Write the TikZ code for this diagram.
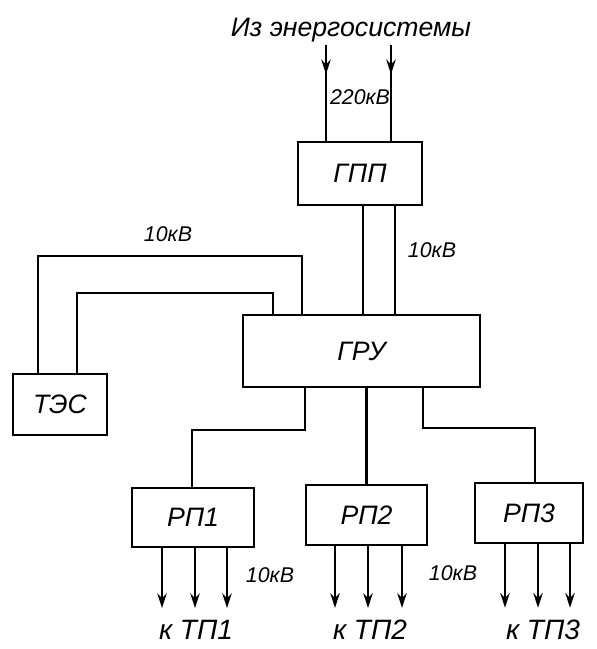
\documentclass[tikz,border=0pt]{standalone}
\usepackage{fontspec}
\setmainfont{Liberation Sans}
\usetikzlibrary{arrows.meta,decorations.markings}

\begin{document}
\begin{tikzpicture}[x=0.75pt,y=-0.75pt]
\tikzset{
  unitbox/.style={rectangle,draw,line width=2.1pt,inner sep=0pt,font=\fontsize{20}{24}\selectfont\itshape},
  tagtext/.style={inner sep=1pt,font=\fontsize{20}{24}\selectfont\itshape},
  kvtext/.style={inner sep=1pt,font=\fontsize{16}{19}\selectfont\itshape},
  busline/.style={line width=2.1pt},
  feedin/.style={line width=2.1pt,decoration={markings,mark=at position 22pt with {\arrow{Stealth[length=11pt,width=7pt]}}},postaction={decorate}},
  feedout/.style={line width=2.1pt,-{Stealth[length=11pt,width=7pt]},shorten >=8pt}
}
\useasboundingbox (0,0) rectangle (596,649);
% units
\node[unitbox,minimum width=93pt,minimum height=47.25pt] (n_gpp) at (360,173.5) {ГПП};
\node[unitbox,minimum width=177.75pt,minimum height=54pt] (n_gru) at (361.5,351) {ГРУ};
\node[unitbox,minimum width=70.5pt,minimum height=45.75pt] (n_tes) at (60,404.5) {ТЭС};
\node[unitbox,minimum width=91.5pt,minimum height=44.25pt] (n_rp1) at (193,517.5) {РП1};
\node[unitbox,minimum width=90.75pt,minimum height=45pt] (n_rp2) at (366.5,515) {РП2};
\node[unitbox,minimum width=81pt,minimum height=45pt] (n_rp3) at (529,513) {РП3};
% texts
\node[tagtext] (n_src) at (351,30) {Из энергосистемы};
\node[kvtext] (n_kv220) at (360,97) {220кВ};
\node[kvtext] (n_kvgpp) at (432,250) {10кВ};
\node[kvtext] (n_kvtes) at (168,234) {10кВ};
\node[kvtext] (n_kvrp1) at (270,575) {10кВ};
\node[kvtext] (n_kvrp2) at (453,573) {10кВ};
\node[tagtext,font=\fontsize{21}{25}\selectfont\itshape] (n_tp1) at (196,630) {к ТП1};
\node[tagtext,font=\fontsize{21}{25}\selectfont\itshape] (n_tp2) at (370,630) {к ТП2};
\node[tagtext,font=\fontsize{21}{25}\selectfont\itshape] (n_tp3) at (543,630) {к ТП3};
% bends
\coordinate (c_in1) at (326,45);
\coordinate (c_in2) at (391,45);
\coordinate (c_up1) at (363,0);
\coordinate (c_up2) at (395,0);
\coordinate (c_outl) at (38,256);
\coordinate (c_outr) at (302,256);
\coordinate (c_inl) at (77,293);
\coordinate (c_inr) at (273,293);
\coordinate (c_b1) at (305,430);
\coordinate (c_b1l) at (192,430);
\coordinate (c_b3) at (423,428);
\coordinate (c_b3r) at (535,428);
% lines
\draw[feedin] (c_in1) -- (c_in1 |- n_gpp.north);
\draw[feedin] (c_in2) -- (c_in2 |- n_gpp.north);
\draw[busline] (n_gpp.south -| c_up1) -- (n_gru.north -| c_up1);
\draw[busline] (n_gpp.south -| c_up2) -- (n_gru.north -| c_up2);
\draw[busline] (n_tes.north -| c_outl) -- (c_outl) -- (c_outr) -- (c_outr |- n_gru.north);
\draw[busline] (n_tes.north -| c_inl) -- (c_inl) -- (c_inr) -- (c_inr |- n_gru.north);
\draw[busline] (n_gru.south -| c_b1) -- (c_b1) -- (c_b1l) -- (c_b1l |- n_rp1.north);
\draw[busline] (n_rp2.north |- n_gru.south) -- (n_rp2.north);
\draw[busline] (n_gru.south -| c_b3) -- (c_b3) -- (c_b3r) -- (c_b3r |- n_rp3.north);
% outgoing feeders
\foreach \rp/\tp/\a/\b/\c in {rp1/tp1/-31/2/34,rp2/tp2/-31.5/1.5/35.5,rp3/tp3/-24/9/41}
  \foreach \dx in {\a,\b,\c} {
    \coordinate (c_t) at ([xshift=\dx*0.75pt]n_\rp.south);
    \draw[feedout] (c_t) -- (c_t |- n_\tp.north);
  }
\end{tikzpicture}
\end{document}
